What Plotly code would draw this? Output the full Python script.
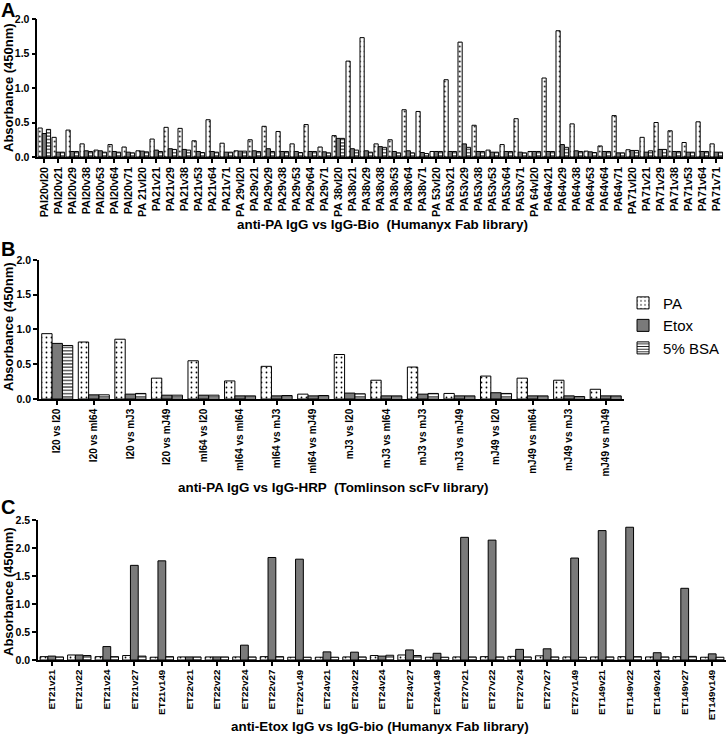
import plotly.graph_objects as go

# ---------------- Panel A data ----------------
A_labels = ["PAI20vI20", "PAI20v21", "PAI20v29", "PAI20v38", "PAI20v53", "PAI20v64", "PAI20v71",
            "PA 21vI20", "PA21v21", "PA21v29", "PA21v38", "PA21v53", "PA21v64", "PA21v71",
            "PA 29vI20", "PA29v21", "PA29v29", "PA29v38", "PA29v53", "PA29v64", "PA29v71",
            "PA 38vI20", "PA38v21", "PA38v29", "PA38v38", "PA38v53", "PA38v64", "PA38v71",
            "PA 53vI20", "PA53v21", "PA53v29", "PA53v38", "PA53v53", "PA53v64", "PA53v71",
            "PA 64vI20", "PA64v21", "PA64v29", "PA64v38", "PA64v53", "PA64v64", "PA64v71",
            "PA71vI20", "PA71v21", "PA71v29", "PA71v38", "PA71v53", "PA71v64", "PA71v71"]
A_PA = [0.42, 0.285, 0.39, 0.19, 0.10, 0.18, 0.145,
        0.09, 0.26, 0.43, 0.415, 0.235, 0.54, 0.20,
        0.09, 0.25, 0.445, 0.37, 0.19, 0.47, 0.145,
        0.31, 1.39, 1.73, 0.19, 0.25, 0.685, 0.66,
        0.08, 1.12, 1.665, 0.46, 0.10, 0.18, 0.555,
        0.08, 1.145, 1.83, 0.48, 0.085, 0.16, 0.60,
        0.105, 0.285, 0.50, 0.38, 0.21, 0.51, 0.19]
A_Etox = [0.34, 0.07, 0.08, 0.09, 0.09, 0.08, 0.07,
          0.085, 0.10, 0.12, 0.11, 0.08, 0.08, 0.07,
          0.085, 0.09, 0.12, 0.08, 0.08, 0.08, 0.075,
          0.27, 0.12, 0.09, 0.15, 0.08, 0.09, 0.065,
          0.08, 0.08, 0.19, 0.08, 0.07, 0.08, 0.07,
          0.08, 0.08, 0.18, 0.09, 0.075, 0.08, 0.06,
          0.095, 0.07, 0.11, 0.08, 0.07, 0.08, 0.07]
A_BSA = [0.40, 0.07, 0.08, 0.08, 0.07, 0.07, 0.06,
         0.075, 0.08, 0.11, 0.10, 0.065, 0.07, 0.07,
         0.085, 0.08, 0.08, 0.08, 0.065, 0.08, 0.06,
         0.27, 0.10, 0.07, 0.14, 0.06, 0.06, 0.05,
         0.08, 0.08, 0.14, 0.08, 0.07, 0.08, 0.06,
         0.08, 0.08, 0.14, 0.08, 0.065, 0.08, 0.06,
         0.095, 0.09, 0.11, 0.08, 0.07, 0.08, 0.07]

# ---------------- Panel B data ----------------
B_labels = ["I20 vs I20", "I20 vs mI64", "I20 vs mJ3", "I20 vs mJ49",
            "mI64 vs I20", "mI64 vs mI64", "mI64 vs mJ3", "mI64 vs mJ49",
            "mJ3 vs I20", "mJ3 vs mI64", "mJ3 vs mJ3", "mJ3 vs mJ49",
            "mJ49 vs I20", "mJ49 vs mI64", "mJ49 vs mJ3", "mJ49 vs mJ49"]
B_PA = [0.94, 0.82, 0.86, 0.30, 0.55, 0.26, 0.47, 0.07,
        0.64, 0.27, 0.46, 0.08, 0.33, 0.30, 0.27, 0.14]
B_Etox = [0.80, 0.06, 0.07, 0.055, 0.055, 0.045, 0.045, 0.045,
          0.085, 0.045, 0.07, 0.045, 0.09, 0.045, 0.045, 0.045]
B_BSA = [0.77, 0.06, 0.08, 0.055, 0.055, 0.045, 0.05, 0.05,
         0.075, 0.045, 0.08, 0.045, 0.08, 0.045, 0.035, 0.045]

# ---------------- Panel C data ----------------
C_labels = ["ET21v21", "ET21v22", "ET21v24", "ET21v27", "ET21v149",
            "ET22v21", "ET22v22", "ET22v24", "ET22v27", "ET22v149",
            "ET24v21", "ET24v22", "ET24v24", "ET24v27", "ET24v149",
            "ET27v21", "ET27v22", "ET27v24", "ET27v27", "ET27v149",
            "ET149v21", "ET149v22", "ET149v24", "ET149v27", "ET149v149"]
C_PA = [0.06, 0.09, 0.06, 0.08, 0.05,
        0.055, 0.055, 0.055, 0.06, 0.05,
        0.05, 0.055, 0.08, 0.09, 0.05,
        0.055, 0.06, 0.065, 0.075, 0.055,
        0.055, 0.06, 0.055, 0.06, 0.05]
C_Etox = [0.07, 0.09, 0.24, 1.69, 1.77,
          0.055, 0.055, 0.265, 1.83, 1.80,
          0.145, 0.14, 0.07, 0.18, 0.12,
          2.19, 2.14, 0.19, 0.20, 1.82,
          2.31, 2.37, 0.13, 1.28, 0.11]
C_BSA = [0.055, 0.08, 0.06, 0.07, 0.06,
         0.055, 0.055, 0.055, 0.06, 0.05,
         0.05, 0.055, 0.085, 0.08, 0.05,
         0.055, 0.055, 0.055, 0.055, 0.05,
         0.055, 0.06, 0.055, 0.065, 0.05]

series_names = ["PA", "Etox", "5% BSA"]

FONT = "Liberation Sans, Arial, Helvetica, sans-serif"
GREY = "#7a7a7a"

styles = {
    "PA": dict(color="white", pattern=dict(shape=".", fgcolor="black", bgcolor="white", size=5, solidity=0.1)),
    "Etox": dict(color=GREY),
    "5% BSA": dict(color="white", pattern=dict(shape="-", fgcolor="black", bgcolor="white", size=3.3, solidity=0.3)),
}

fig = go.Figure()

panels = [
    ("x", "y", A_labels, [A_PA, A_Etox, A_BSA], 0.30, False),
    ("x2", "y2", B_labels, [B_PA, B_Etox, B_BSA], 0.283, True),
    ("x3", "y3", C_labels, [C_PA, C_Etox, C_BSA], 0.283, False),
]

for xa, ya, labels, vals, w, show in panels:
    offsets = [-1.5 * w, -0.5 * w, 0.5 * w]
    for name, v, off in zip(series_names, vals, offsets):
        st = styles[name]
        marker = dict(color=st["color"], line=dict(color="black", width=1))
        if "pattern" in st:
            marker["pattern"] = st["pattern"]
        fig.add_trace(go.Bar(
            x=labels, y=v, name=name, xaxis=xa, yaxis=ya,
            width=w, offset=off, marker=marker,
            legendgroup=name, showlegend=show,
        ))

axis_common = dict(showgrid=False, zeroline=False, showline=True, linecolor="black",
                   linewidth=1.5, ticks="outside", tickcolor="black", tickwidth=1.5,
                   ticklen=4, automargin=False)

tickfont_y = dict(family=FONT, size=10.5, color="black", weight="bold")

fig.update_layout(
    template="none",
    width=727, height=734,
    margin=dict(l=0, r=0, t=0, b=0, autoexpand=False),
    paper_bgcolor="white", plot_bgcolor="white",
    barmode="overlay",
    font=dict(family=FONT, color="black"),
    xaxis=dict(domain=[0.0513, 0.9949], anchor="y", type="category",
               range=[-0.5, len(A_labels) - 0.5], tickangle=-90, ticklabeloverflow="allow",
               tickfont=dict(family=FONT, size=10.8, color="black", weight="bold"), **axis_common),
    yaxis=dict(domain=[0.7861, 0.9741], anchor="x", range=[0, 2.0], dtick=0.5,
               tickformat=".1f", tickfont=tickfont_y, **axis_common),
    xaxis2=dict(domain=[0.0536, 0.8583], anchor="y2", type="category",
                range=[-0.5, len(B_labels) - 0.5], tickangle=-90, ticklabeloverflow="allow",
                tickfont=dict(family=FONT, size=10, color="black", weight="bold"), **axis_common),
    yaxis2=dict(domain=[0.4564, 0.6458], anchor="x2", range=[0, 2.0], dtick=0.5,
                tickformat=".1f", tickfont=tickfont_y, **axis_common),
    xaxis3=dict(domain=[0.0523, 0.9986], anchor="y3", type="category",
                range=[-0.5, len(C_labels) - 0.5], tickangle=-90, ticklabeloverflow="allow",
                tickfont=dict(family=FONT, size=9.8, color="black", weight="bold"), **axis_common),
    yaxis3=dict(domain=[0.1008, 0.2916], anchor="x3", range=[0, 2.5], dtick=0.5,
                tickformat=".1f", tickfont=tickfont_y, **axis_common),
    legend=dict(x=0.857, y=0.6095, xanchor="left", yanchor="top",
                font=dict(family=FONT, size=15, color="black"),
                bgcolor="rgba(0,0,0,0)", borderwidth=0, tracegroupgap=0),
    showlegend=True,
)

ann_font_title = dict(family=FONT, size=13.4, color="black", weight="bold")
ann_font_ytitle = dict(family=FONT, size=13, color="black", weight="bold")
annotations = []
# y-axis titles
for ycen in [1 - 88 / 734, 1 - 327 / 734, 1 - 592 / 734]:
    annotations.append(dict(text="Absorbance (450nm)", x=8 / 727, y=ycen, xref="paper", yref="paper",
                            textangle=-90, showarrow=False, font=ann_font_ytitle,
                            xanchor="center", yanchor="middle"))
# x-axis titles
annotations.append(dict(text="anti-PA IgG vs IgG-Bio  (Humanyx Fab library)", x=382 / 727, y=1 - 224 / 734,
                        xref="paper", yref="paper", showarrow=False, font=ann_font_title,
                        xanchor="center", yanchor="middle"))
annotations.append(dict(text="anti-PA IgG vs IgG-HRP  (Tomlinson scFv library)", x=333 / 727, y=1 - 487 / 734,
                        xref="paper", yref="paper", showarrow=False, font=ann_font_title,
                        xanchor="center", yanchor="middle"))
annotations.append(dict(text="anti-Etox IgG vs IgG-bio (Humanyx Fab library)", x=380 / 727, y=1 - 726 / 734,
                        xref="paper", yref="paper", showarrow=False, font=ann_font_title,
                        xanchor="center", yanchor="middle"))
# panel letters
for letter, yc in [("A", 10), ("B", 249), ("C", 507)]:
    annotations.append(dict(text=letter, x=8 / 727, y=1 - yc / 734, xref="paper", yref="paper",
                            showarrow=False, font=dict(family=FONT, size=20, color="black", weight="bold"),
                            xanchor="center", yanchor="middle"))
fig.update_layout(annotations=annotations)

fig.write_html("out.html",
               config={"displayModeBar": False},
               post_script="document.body.style.margin='0';document.body.style.padding='0';")
